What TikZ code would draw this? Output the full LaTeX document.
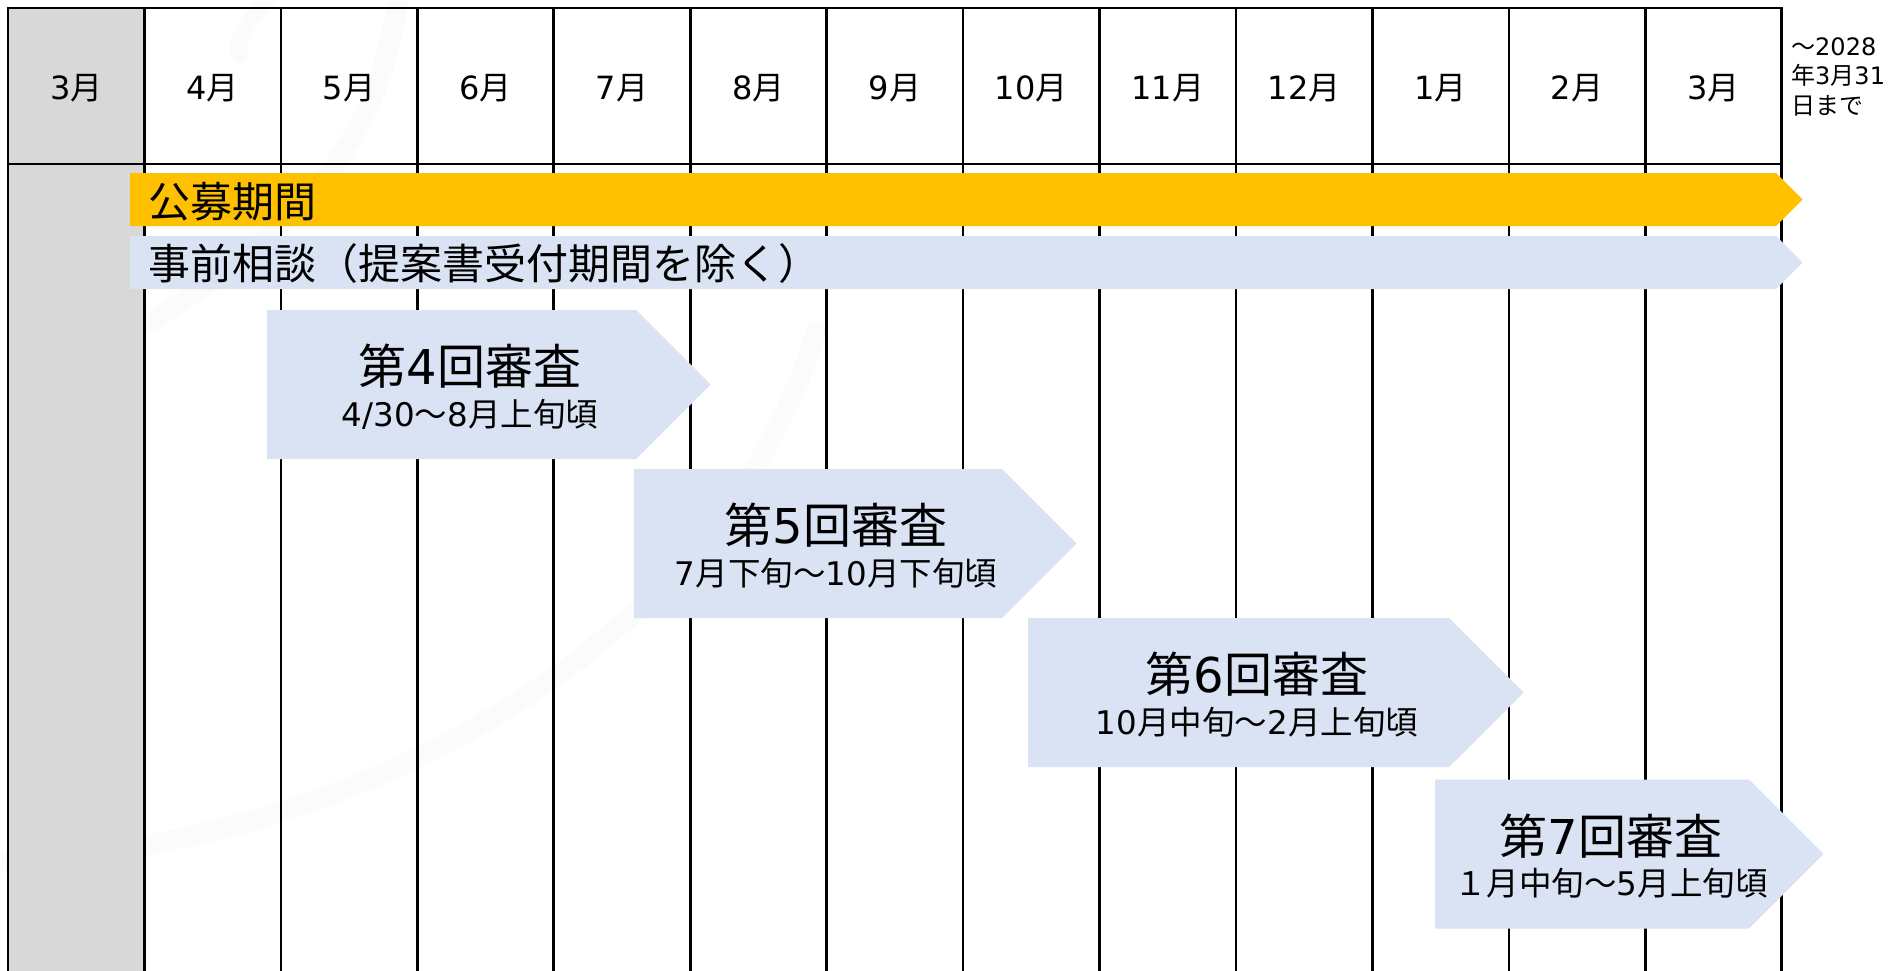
\documentclass[tikz,border=0pt]{standalone}
\usepackage{fontspec}
\setmainfont{Noto Sans CJK JP}
\newfontfamily\latfont{DejaVu Sans}
\newcommand\dg[1]{{\latfont #1}}
\definecolor{orangebar}{HTML}{FFC000}
\definecolor{bluebar}{HTML}{DAE3F3}
\definecolor{grayfill}{HTML}{D8D8D8}
\definecolor{wmark}{HTML}{FBFBFB}
\tikzset{
  gridline/.style={line width=2.6pt,black},
  monthlabel/.style={anchor=base,inner sep=0pt,font=\fontsize{32}{38}\selectfont},
  barlabel/.style={anchor=base west,inner sep=0pt,font=\fontsize{42}{50}\selectfont},
  boxtitle/.style={anchor=base,inner sep=0pt,font=\fontsize{48}{57}\selectfont},
  boxsub/.style={anchor=base,inner sep=0pt,font=\fontsize{32.5}{39}\selectfont},
  notelabel/.style={anchor=north west,inner sep=0pt,align=left,font=\fontsize{24}{29.5}\selectfont},
}
\begin{document}
\begin{tikzpicture}[x=1pt,y=-1pt]
\useasboundingbox (0,0) rectangle (1889,971);
\fill[white] (0,0) rectangle (1889,971);
% faint watermark
\draw[wmark,line width=20pt,line cap=round] (-10,862) .. controls (350,850) and (720,650) .. (816,332);
\draw[wmark,line width=16pt,line cap=round] (268,0) .. controls (245,25) and (235,40) .. (240,55);
\draw[wmark,line width=20pt,line cap=round] (398,0) .. controls (380,120) and (330,210) .. (150,322);
% grey first column
\fill[grayfill] (8,8) rectangle (144.44,971);
% grid
\foreach \k in {0,...,13}{
  \draw[gridline] ({8+136.44*\k},8) -- ({8+136.44*\k},972);
}
\draw[gridline] (6.7,8) -- (1783,8);
\draw[gridline] (8,164) -- (1781.7,164);
% month headers
\foreach \k/\m in {0/3,1/4,2/5,3/6,4/7,5/8,6/9,7/10,8/11,9/12,10/1,11/2,12/3}{
  \node[monthlabel] (m\k) at ({8+136.44*(\k+0.5)},100) {\dg{\m}月};
}
% note
\node[notelabel] (note) at (1791,37) {～\dg{2028}\\年\dg{3}月\dg{31}\\日まで};
% bars
\fill[orangebar] (130,173) -- (1776,173) -- (1802.5,199.5) -- (1776,226) -- (130,226) -- cycle;
\fill[bluebar] (130,236) -- (1776,236) -- (1802.5,262.5) -- (1776,289) -- (130,289) -- cycle;
\node[barlabel] (koubo) at (148,217) {公募期間};
\node[barlabel] (jizen) at (148,279) {事前相談（提案書受付期間を除く）};
% review boxes
\foreach \n/\l/\f/\t in {4/267/636/310, 5/634/1002/469, 6/1028/1449/618, 7/1435/1749/779.5}{
  \fill[bluebar] (\l,\t) -- (\f,\t) -- ({\f+74.5},{\t+74.5}) -- (\f,{\t+149}) -- (\l,{\t+149}) -- cycle;
}
\node[boxtitle] (r4) at (470,384.5) {第\dg{4}回審査};
\node[boxsub] (s4) at (470,426) {\dg{4/30}～\dg{8}月上旬頃};
\node[boxtitle] (r5) at (836,543.5) {第\dg{5}回審査};
\node[boxsub] (s5) at (836,585) {\dg{7}月下旬～\dg{10}月下旬頃};
\node[boxtitle] (r6) at (1257,692.5) {第\dg{6}回審査};
\node[boxsub] (s6) at (1257,734) {\dg{10}月中旬～\dg{2}月上旬頃};
\node[boxtitle] (r7) at (1611,854) {第\dg{7}回審査};
\node[boxsub] (s7) at (1611,895.5) {１月中旬～\dg{5}月上旬頃};
\end{tikzpicture}
\end{document}
